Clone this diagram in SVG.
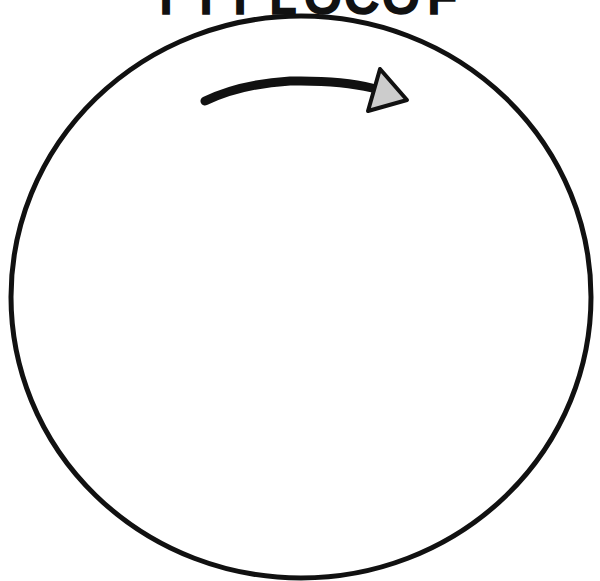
<svg xmlns="http://www.w3.org/2000/svg" width="600" height="581" viewBox="0 0 600 581">
<style>
.t{font-family:"Liberation Sans",Arial,sans-serif;font-size:46px;fill:#111;stroke:#111;stroke-width:3.5;}
.ring{fill:none;stroke:#111;stroke-width:5;}
.shaft{fill:none;stroke:#111;stroke-width:9;stroke-linecap:round;}
.head{fill:#ccc;stroke:#111;stroke-width:4;stroke-linejoin:round;}
</style>
<rect width="600" height="581" fill="#fff"/>
<g id="title"><text class="t" x="152 192 226 270 305 345 383 428" y="13">TTTLOCOF</text></g>
<g id="circle"><ellipse class="ring" cx="301" cy="297" rx="290" ry="281"/></g>
<g id="connectors">
<path class="shaft" d="M205,101 Q240,84 290,81 Q340,80 372,88"/>
<polygon class="head" points="380,69 407,100 368,111"/>
</g>
</svg>
